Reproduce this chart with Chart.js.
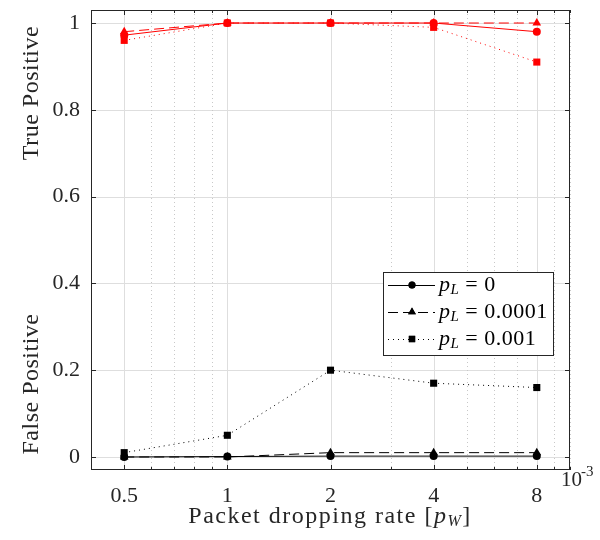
<!DOCTYPE html>
<html>
<head>
<meta charset="utf-8">
<script src="https://cdn.jsdelivr.net/npm/chart.js@4.4.0/dist/chart.umd.min.js"></script>
<style>
  html, body { margin: 0; padding: 0; background: #fff; }
</style>
</head>
<body>
<canvas id="myChart" width="600" height="540"></canvas>
<script>
// x values are in units of 10^-3
const dropRates = [0.5, 1, 2, 4, 8];
const xTicks = [0.5, 1, 2, 4, 8];
const xMinor = [0.4, 0.6, 0.7, 0.8, 0.9, 3, 5, 6, 7, 9, 10];
const yTicks = [0, 0.2, 0.4, 0.6, 0.8, 1];
const legendLabels = ['0', '0.0001', '0.001'];

// true positive (red)
const tpPL0 = [0.972, 1, 1, 1, 0.98];
const tpPL1 = [0.98, 1, 1, 1, 1];
const tpPL2 = [0.96, 1, 1, 0.99, 0.91];
// false positive (black)
const fpPL0 = [0, 0.001, 0.002, 0.002, 0.002];
const fpPL1 = [0, 0, 0.01, 0.01, 0.01];
const fpPL2 = [0.01, 0.05, 0.2, 0.17, 0.16];

const FONT = '"Liberation Serif", "Times New Roman", serif';
const AXIS = '#262626';
const styles = [
    { point: 'circle', radius: 4, dash: [] },
    { point: 'triangle', radius: 5, dash: [10, 5] },
    { point: 'rect', radius: 5, dash: [1, 4] }
];

function makeSet(vals, color, i) {
    return {
        data: vals.map((v, k) => ({ x: dropRates[k], y: v })),
        borderColor: color,
        backgroundColor: color,
        borderWidth: 1,
        borderDash: styles[i].dash,
        pointStyle: styles[i].point,
        pointRadius: styles[i].radius,
        pointBorderWidth: 0,
        tension: 0
    };
}

const data = {
    datasets: [
        makeSet(fpPL0, '#000', 0),
        makeSet(fpPL1, '#000', 1),
        makeSet(fpPL2, '#000', 2),
        makeSet(tpPL0, '#ff0000', 0),
        makeSet(tpPL1, '#ff0000', 1),
        makeSet(tpPL2, '#ff0000', 2)
    ]
};

// mixed italic / subscript text helper
function drawParts(ctx, parts, x, y, measureOnly) {
    let cx = x;
    parts.forEach(p => {
        ctx.font = p.font;
        if (!measureOnly) ctx.fillText(p.t, cx, y + (p.dy || 0));
        cx += ctx.measureText(p.t).width;
    });
    return cx - x;
}

const gridPlugin = {
    id: 'gridPlugin',
    beforeDatasetsDraw(chart) {
        const { ctx, chartArea: a, scales: { x, y } } = chart;
        ctx.save();
        ctx.lineWidth = 1;
        ctx.strokeStyle = '#dedede';
        yTicks.forEach(v => {
            const py = Math.round(y.getPixelForValue(v)) + 0.5;
            ctx.beginPath(); ctx.moveTo(a.left, py); ctx.lineTo(a.right, py); ctx.stroke();
        });
        xTicks.forEach(v => {
            const px = Math.round(x.getPixelForValue(v)) + 0.5;
            ctx.beginPath(); ctx.moveTo(px, a.top); ctx.lineTo(px, a.bottom); ctx.stroke();
        });
        ctx.strokeStyle = '#c8c8c8';
        ctx.setLineDash([1, 3]);
        xMinor.forEach(v => {
            const px = Math.round(x.getPixelForValue(v)) + 0.5;
            ctx.beginPath(); ctx.moveTo(px, a.top); ctx.lineTo(px, a.bottom); ctx.stroke();
        });
        ctx.restore();
    },
    afterDatasetsDraw(chart) {
        const { ctx, chartArea: a, scales: { x, y } } = chart;
        ctx.save();
        // frame and ticks
        ctx.strokeStyle = AXIS;
        ctx.lineWidth = 1;
        ctx.strokeRect(a.left + 0.5, a.top + 0.5, a.right - a.left - 1, a.bottom - a.top - 1);
        ctx.beginPath();
        yTicks.forEach(v => {
            const py = Math.round(y.getPixelForValue(v)) + 0.5;
            ctx.moveTo(a.left, py); ctx.lineTo(a.left + 5, py);
            ctx.moveTo(a.right, py); ctx.lineTo(a.right - 5, py);
        });
        xTicks.forEach(v => {
            const px = Math.round(x.getPixelForValue(v)) + 0.5;
            ctx.moveTo(px, a.bottom); ctx.lineTo(px, a.bottom - 5);
            ctx.moveTo(px, a.top); ctx.lineTo(px, a.top + 5);
        });
        xMinor.forEach(v => {
            const px = Math.round(x.getPixelForValue(v)) + 0.5;
            ctx.moveTo(px, a.bottom); ctx.lineTo(px, a.bottom - 3);
            ctx.moveTo(px, a.top); ctx.lineTo(px, a.top + 3);
        });
        ctx.stroke();

        // legend
        const lx = 383, ly = 272, lw = 170, lh = 83;
        ctx.fillStyle = '#fff';
        ctx.fillRect(lx, ly, lw, lh);
        ctx.strokeStyle = AXIS;
        ctx.strokeRect(lx + 0.5, ly + 0.5, lw, lh);
        ctx.fillStyle = '#000';
        ctx.textBaseline = 'middle';
        ctx.textAlign = 'left';
        legendLabels.forEach((lab, i) => {
            const cy = ly + 13 + i * 27;
            ctx.strokeStyle = '#000';
            ctx.setLineDash(styles[i].dash);
            ctx.beginPath(); ctx.moveTo(lx + 5, cy + 0.5); ctx.lineTo(lx + 52, cy + 0.5); ctx.stroke();
            ctx.setLineDash([]);
            Chart.helpers.drawPoint(ctx, { pointStyle: styles[i].point, radius: styles[i].radius - 0.5, borderWidth: 0 }, lx + 29, cy);
            ctx.fill();
            ctx.letterSpacing = '0.5px';
            drawParts(ctx, [
                { t: 'p', font: 'italic 22px ' + FONT },
                { t: 'L', font: 'italic 15px ' + FONT, dy: 5 },
                { t: ' = ' + lab, font: '22px ' + FONT }
            ], lx + 56, cy);
            ctx.letterSpacing = '0px';
        });

        // axis titles
        ctx.fillStyle = AXIS;
        ctx.textAlign = 'center';
        ctx.font = '24px ' + FONT;
        ctx.letterSpacing = '0.5px';
        [['True Positive', 93], ['False Positive', 384]].forEach(([t, cy]) => {
            ctx.save();
            ctx.translate(32, cy);
            ctx.rotate(-Math.PI / 2);
            ctx.fillText(t, 0, 0);
            ctx.restore();
        });
        ctx.textAlign = 'left';
        ctx.letterSpacing = '1.5px';
        const xParts = [
            { t: 'Packet dropping rate [', font: '24px ' + FONT },
            { t: 'p', font: 'italic 24px ' + FONT },
            { t: 'W', font: 'italic 16px ' + FONT, dy: 5 },
            { t: ']', font: '24px ' + FONT }
        ];
        const w = drawParts(ctx, xParts, 0, 0, true);
        drawParts(ctx, xParts, 330 - w / 2, 517);
        ctx.letterSpacing = '0px';

        // exponent label
        ctx.font = '21px ' + FONT;
        ctx.fillText('10', 561, 480);
        ctx.font = '15px ' + FONT;
        ctx.fillText('-3', 581, 472);
        ctx.restore();
    }
};

const config = {
    type: 'line',
    data: data,
    options: {
        responsive: false,
        animation: false,
        layout: { padding: { top: 10, right: 30, left: 0, bottom: 0 } },
        scales: {
            x: {
                type: 'logarithmic',
                min: 0.4,
                max: 10,
                grid: { display: false, drawTicks: false },
                border: { display: false },
                afterBuildTicks: s => { s.ticks = xTicks.map(v => ({ value: v })); },
                afterFit: s => { s.height = 70; s.paddingLeft = 0; s.paddingRight = 0; },
                ticks: {
                    autoSkip: false,
                    maxRotation: 0,
                    padding: 13,
                    color: AXIS,
                    font: { family: FONT, size: 22 },
                    callback: v => String(v)
                }
            },
            y: {
                type: 'linear',
                min: -0.03,
                max: 1.03,
                grid: { display: false, drawTicks: false },
                border: { display: false },
                afterBuildTicks: s => { s.ticks = yTicks.map(v => ({ value: v })); },
                afterFit: s => { s.width = 91; s.paddingTop = 0; s.paddingBottom = 0; },
                ticks: {
                    padding: 11,
                    color: AXIS,
                    font: { family: FONT, size: 22 },
                    callback: v => String(+v.toFixed(1))
                }
            }
        },
        plugins: {
            legend: { display: false },
            tooltip: { enabled: false }
        }
    },
    plugins: [gridPlugin]
};

const myChart = new Chart(document.getElementById('myChart'), config);
</script>
</body>
</html>
